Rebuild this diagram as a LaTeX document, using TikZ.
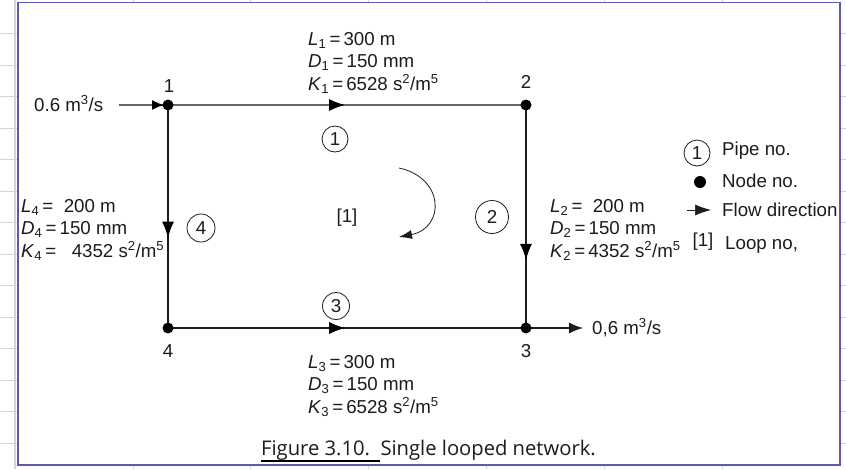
\documentclass[tikz,border=0pt]{standalone}
\usepackage{fontspec}
\setmainfont{Liberation Sans}
\newfontfamily\capfont{Open Sans}
\usetikzlibrary{arrows.meta,decorations.markings,backgrounds}
\definecolor{frameblue}{HTML}{5A5AB4}
\definecolor{gridgrey}{HTML}{D4D4D4}
\definecolor{inkblack}{HTML}{1C1C1C}
\newcommand{\Pv}[3]{\textit{#1}\textsubscript{#2}\,=\,#3}
\tikzset{
  pipe/.style={draw=inkblack,line width=1.3pt},
  pipetop/.style={draw=black!60,line width=1.8pt},
  midtip/.style={postaction={decorate,decoration={markings,
     mark=at position #1 with {\arrow[black]{Latex[length=16pt,width=12pt]}}}}},
  smalltip/.style={postaction={decorate,decoration={markings,
     mark=at position #1 with {\arrow[black]{Latex[length=12pt,width=10pt]}}}}},
  junction/.style={circle,fill=black,inner sep=0pt,minimum size=11pt},
  lbl/.style={font=\fontsize{18.7}{18.7}\selectfont,text=inkblack,inner sep=0pt},
  props/.style={lbl,align=left,anchor=north west,font=\fontsize{18.7}{22.5}\selectfont},
  pipeno/.style={circle,draw=inkblack,line width=0.8pt,lbl,minimum size=#1},
  grid/.style={draw=gridgrey,line width=1pt}
}
\begin{document}
\begin{tikzpicture}[x=1pt,y=-1pt]
\useasboundingbox (0,0) rectangle (846,469);

% nodes
\node[junction] (n1) at (168,105) {};
\node[junction] (n2) at (526,105) {};
\node[junction] (n3) at (526,328) {};
\node[junction] (n4) at (168,328) {};
\coordinate (inflow) at (119,105);
\coordinate (outflow) at (583,328);

\begin{pgfonlayer}{background}
% sheet gridlines
\foreach \y in {33,65,96,128,159,191,222,254,285,317,348,380,411,443}{
  \draw[grid] (0,\y) -- (18,\y);
  \draw[grid] (840,\y) -- (846,\y);
}
\draw[grid,line width=2pt] (15,0) -- (15,469);
\foreach \x in {133,250,368,486,604,722}{
  \draw[grid] (\x,0) -- (\x,2);
  \draw[grid] (\x,465) -- (\x,469);
}
\draw[draw=frameblue,line width=1.6pt,fill=white] (18,2.5) rectangle (840,465);
% pipes
\draw[pipetop,midtip=0.495] (n1.center) -- (n2.center);
\draw[pipe,midtip=0.695] (n2.center) -- (n3.center);
\draw[pipe,midtip=0.495] (n4.center) -- (n3.center);
\draw[pipe,midtip=0.595] (n1.center) -- (n4.center);
\draw[pipetop,smalltip=0.92] (inflow) -- (n1.center);
\draw[pipe,-{Latex[length=14pt,width=11pt]}] (n3.center) -- (outflow);
\end{pgfonlayer}

% node labels
\node[lbl] (t1) at (169,86) {1};
\node[lbl] (t2) at (526,82) {2};
\node[lbl] (t3) at (526,351) {3};
\node[lbl] (t4) at (168,351) {4};

% flow labels
\node[lbl,anchor=base west] (qin) at (34,111) {0.6 m\textsuperscript{3}/s};
\node[lbl,anchor=base west] (qout) at (592,334) {0,6 m\textsuperscript{3}/s};

% pipe numbers
\node[pipeno=26pt] (p1) at (335,139) {1};
\node[pipeno=33pt] (p2) at (492,217) {2};
\node[pipeno=27pt] (p3) at (336,306) {3};
\node[pipeno=28pt] (p4) at (201,228) {4};

% loop
\node[lbl] (loop) at (347,218) {[1]};
\coordinate (la) at (399,168);
\coordinate (lb) at (399,237);
\draw[inkblack,line width=0.8pt,-{Latex[length=13pt,width=9pt]}] (la) .. controls (445,178) and (445,228) .. (lb);

% property blocks
\node[props] (b1) at (308,32) {\Pv{L}{1}{300 m}\\\Pv{D}{1}{150 mm}\\\Pv{K}{1}{6528 s\textsuperscript{2}/m\textsuperscript{5}}};
\node[props] (b2) at (550,199) {\textit{L}\textsubscript{2}\,=\ \ 200 m\\\Pv{D}{2}{150 mm}\\\Pv{K}{2}{4352 s\textsuperscript{2}/m\textsuperscript{5}}};
\node[props] (b3) at (308,355) {\Pv{L}{3}{300 m}\\\Pv{D}{3}{150 mm}\\\Pv{K}{3}{6528 s\textsuperscript{2}/m\textsuperscript{5}}};
\node[props] (b4) at (21,199) {\textit{L}\textsubscript{4}\,=\ \ 200 m\\\Pv{D}{4}{150 mm}\\\textit{K}\textsubscript{4}\,=\ \ \ 4352 s\textsuperscript{2}/m\textsuperscript{5}};

% legend
\node[pipeno=26pt] (k1) at (697,153) {1};
\node[lbl,anchor=base west] (k1t) at (722,155) {Pipe no.};
\node[junction,minimum size=12pt] (k2) at (700,182) {};
\node[lbl,anchor=base west] (k2t) at (722,187) {Node no.};
\coordinate (k3a) at (687,210);
\coordinate (k3b) at (711,210);
\draw[pipe,line width=0.6pt,-{Latex[length=16pt,width=11pt]}] (k3a) -- (k3b);
\node[lbl,anchor=base west] (k3t) at (722,216) {Flow direction};
\node[lbl] (k4) at (703,242) {[1]};
\node[lbl,anchor=base west] (k4t) at (725,249) {Loop no,};

% caption
\node[anchor=base west,inner sep=0pt,font=\capfont\fontsize{20.2}{20.2}\selectfont,text=inkblack] (cap) at (261,455) {Figure 3.10.\ \ Single looped network.};
\coordinate (ula) at (261,461);
\coordinate (ulb) at (380,461);
\draw[black,line width=1.8pt] (ula) -- (ulb);
\end{tikzpicture}
\end{document}
